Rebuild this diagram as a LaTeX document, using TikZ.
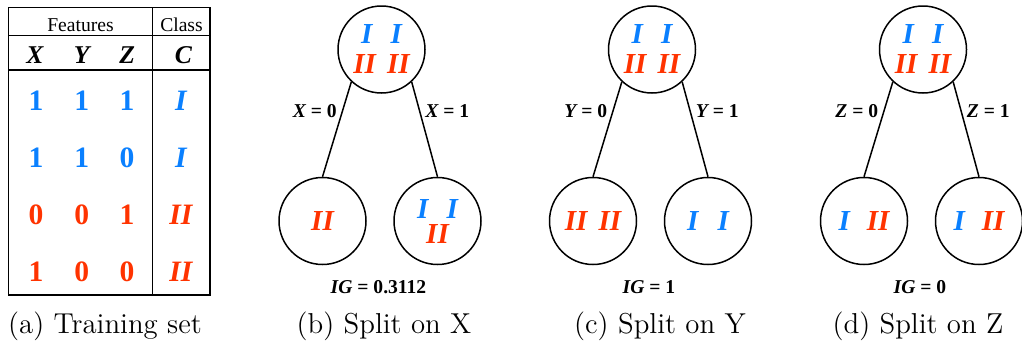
\documentclass[tikz,border=0pt]{standalone}
\usepackage{fontspec}
\newfontfamily\timesfont{Liberation Serif}
\usetikzlibrary{positioning}
\definecolor{classOne}{HTML}{0A80FF}
\definecolor{classTwo}{HTML}{FF3300}
\newcommand{\cOne}{\textcolor{classOne}{I}}
\newcommand{\cTwo}{\textcolor{classTwo}{II}}
\newcommand{\classfont}{\timesfont\bfseries\itshape\fontsize{14.5}{15}\selectfont}

\begin{document}
\begin{tikzpicture}[x=0.5pt, y=-0.5pt, line width=0.75pt,
  every node/.style={inner sep=0pt},
  leaf/.style={draw, circle, minimum size=43.5pt, align=center, font=\classfont},
  edgelabel/.style={inner sep=2.5pt, font=\timesfont\bfseries\fontsize{9.8}{11}\selectfont},
  gainlabel/.style={anchor=base, font=\timesfont\bfseries\fontsize{9.8}{11}\selectfont},
  headcell/.style={anchor=base, font=\timesfont\fontsize{9.8}{11}\selectfont},
  varcell/.style={anchor=base, font=\timesfont\bfseries\itshape\fontsize{12.8}{14}\selectfont},
  digitcell/.style={anchor=base, font=\timesfont\bfseries\fontsize{14.8}{16}\selectfont},
  classcell/.style={anchor=base, font=\timesfont\bfseries\itshape\fontsize{14.8}{16}\selectfont},
  caption/.style={anchor=base, font=\fontsize{14.4}{16}\selectfont}]

\useasboundingbox (0,0) rectangle (1022,349);

% training set table
\draw (8.5,7.3) rectangle (210,295);
\draw (152.7,7.3) -- (152.7,295);
\draw (8.5,35.7) -- (210,35.7);
\draw (8.5,70) -- (210,70);

\node[headcell] (features) at (80.5,31.7) {Features};
\node[headcell] (class) at (181.5,31.7) {Class};
\node[varcell] (varX) at (35,63.3) {X};
\node[varcell] (varY) at (81.7,63.3) {Y};
\node[varcell] (varZ) at (127.3,63.3) {Z};
\node[varcell] (varC) at (183.3,63.3) {C};

\foreach \x/\y/\z/\c/\col/\base [count=\r] in {%
  1/1/1/I/classOne/110,%
  1/1/0/I/classOne/167.3,%
  0/0/1/II/classTwo/224.5,%
  1/0/0/II/classTwo/281.7%
}
{
  \node[digitcell, text=\col] (x\r) at (36,\base) {\x};
  \node[digitcell, text=\col] (y\r) at (81.7,\base) {\y};
  \node[digitcell, text=\col] (z\r) at (127,\base) {\z};
  \node[classcell, text=\col] (c\r) at (181,\base) {\c};
}

% the three splits
\foreach \tr/\cx/\feat/\leftset/\rightset/\gain in {%
  b/381.5/X/{\cTwo}/{\cOne\hspace{9pt}\cOne\\[-2.5pt]\cTwo}/0.3112,%
  c/652/Y/{\cTwo\hspace{5.5pt}\cTwo}/{\cOne\hspace{9.5pt}\cOne}/1,%
  d/923/Z/{\cOne\hspace{8.5pt}\cTwo}/{\cOne\hspace{8.5pt}\cTwo}/0%
}
{
  \node[leaf] (root\tr) at (\cx,49.5) {\cOne\hspace{9pt}\cOne\\\cTwo\hspace{5.5pt}\cTwo};
  \node[leaf] (left\tr) at (\cx-59,221) {\leftset};
  \node[leaf] (right\tr) at (\cx+56,221) {\rightset};
  \draw (root\tr.-133) -- node[edgelabel, pos=0.31, anchor=east] {{\itshape\feat} = 0} (left\tr.north);
  \draw (root\tr.-47) -- node[edgelabel, pos=0.31, anchor=west] {{\itshape\feat} = 1} (right\tr.north);
  \node[gainlabel] (gain\tr) at (\cx-3,293) {{\itshape IG} = \gain};
}

% captions
\node[caption] (capA) at (105,333) {(a) Training set};
\node[caption] (capB) at (384,333) {(b) Split on X};
\node[caption] (capC) at (660,333) {(c) Split on Y};
\node[caption] (capD) at (918,333) {(d) Split on Z};

\end{tikzpicture}
\end{document}
